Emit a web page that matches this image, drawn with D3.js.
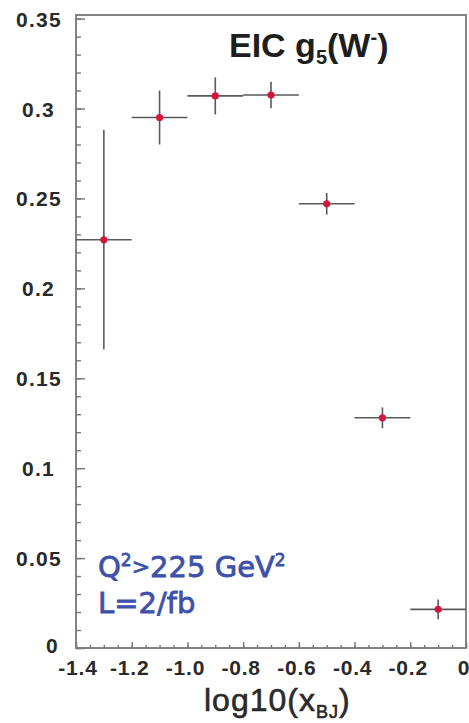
<!DOCTYPE html>
<html>
<head>
<meta charset="utf-8">
<script src="https://cdn.jsdelivr.net/npm/d3@7"></script>
<style>
  html, body { margin: 0; padding: 0; background: #fff; }
  svg { display: block; }
</style>
</head>
<body>
<svg id="chart" width="469" height="723"></svg>
<script>
// Bin centres in log10(x_BJ), half-widths of the bins
const xCenters = [-1.3, -1.1, -0.9, -0.7, -0.5, -0.3, -0.1];
const xHalfWidths = [0.1, 0.1, 0.1, 0.1, 0.1, 0.1, 0.1];
// Projected g5 (W-) values and statistical errors
const g5Values = [0.227, 0.295, 0.307, 0.3075, 0.247, 0.128, 0.0215];
const g5Errors = [0.061, 0.015, 0.0103, 0.0074, 0.006, 0.0058, 0.0055];
// Axis labels
const xTickValues = [-1.4, -1.2, -1.0, -0.8, -0.6, -0.4, -0.2, 0];
const xTickLabels = ["-1.4", "-1.2", "-1.0", "-0.8", "-0.6", "-0.4", "-0.2", "0"];
const yTickValues = [0, 0.05, 0.1, 0.15, 0.2, 0.25, 0.3, 0.35];
const yTickLabels = ["0", "0.05", "0.1", "0.15", "0.2", "0.25", "0.3", "0.35"];

const svg = d3.select("#chart");
const frameL = 76, frameR = 466, frameT = 15, frameB = 648;

const x = d3.scaleLinear().domain([-1.4, 0]).range([frameL, frameR]);
const y = d3.scaleLinear().domain([0, 0.352]).range([frameB, frameT]);

const axisColor = "#777";
const labelFont = "'Liberation Sans', Arial, sans-serif";

// Minor and major ticks (pointing into the frame)
const yMinor = d3.range(0, 0.3501, 0.01);
const xMinor = d3.range(-1.4, 0.0001, 0.05);

function styleTicks(g) {
  g.select(".domain").remove();
  g.selectAll("line").attr("stroke", axisColor).attr("stroke-width", 1.4);
  g.selectAll("text").remove();
}

svg.append("g").attr("transform", `translate(${frameL},0)`)
  .call(d3.axisLeft(y).tickValues(yMinor).tickSizeInner(-5).tickSizeOuter(0))
  .call(styleTicks);
svg.append("g").attr("transform", `translate(${frameL},0)`)
  .call(d3.axisLeft(y).tickValues(yTickValues).tickSizeInner(-9).tickSizeOuter(0))
  .call(styleTicks);
svg.append("g").attr("transform", `translate(0,${frameB})`)
  .call(d3.axisBottom(x).tickValues(xMinor).tickSizeInner(-3).tickSizeOuter(0))
  .call(styleTicks);
svg.append("g").attr("transform", `translate(0,${frameB})`)
  .call(d3.axisBottom(x).tickValues(xTickValues).tickSizeInner(-6).tickSizeOuter(0))
  .call(styleTicks);

// Frame
svg.append("rect")
  .attr("x", frameL).attr("y", frameT)
  .attr("width", frameR - frameL).attr("height", frameB - frameT)
  .attr("fill", "none").attr("stroke", axisColor).attr("stroke-width", 1.8);

// Y tick labels ("0" sits a little lower and tighter to the corner)
svg.append("g").selectAll("text")
  .data(yTickValues)
  .join("text")
  .attr("x", (d, i) => d === 0 ? 59 : (yTickLabels[i].length === 3 ? 55 : 62))
  .attr("y", d => d === 0 ? y(d) + 5 : y(d) + 8)
  .attr("text-anchor", "end")
  .attr("font-family", labelFont)
  .attr("font-weight", "bold")
  .attr("font-size", 21)
  .attr("letter-spacing", 1.3)
  .attr("fill", "#2a2a2a")
  .text((d, i) => yTickLabels[i]);

// X tick labels
svg.append("g").selectAll("text")
  .data(xTickValues)
  .join("text")
  .attr("x", (d, i) => i === 0 ? x(d) + 2 : x(d) - 2)
  .attr("y", 675)
  .attr("text-anchor", "middle")
  .attr("font-family", labelFont)
  .attr("font-weight", "bold")
  .attr("font-size", 21)
  .attr("letter-spacing", 0.8)
  .attr("fill", "#2a2a2a")
  .text((d, i) => xTickLabels[i]);

// X axis title
const xt = svg.append("text")
  .attr("x", 204).attr("y", 711)
  .attr("font-family", labelFont)
  .attr("font-size", 32)
  .attr("fill", "#2a2a2a")
  .attr("stroke", "#2a2a2a").attr("stroke-width", 0.6)
  .attr("letter-spacing", 1);
xt.append("tspan").text("log10(x");
xt.append("tspan").attr("font-size", 18).attr("dy", 7).text("BJ");
xt.append("tspan").attr("dy", -7).text(")");

// Plot title
const title = svg.append("text")
  .attr("x", 229).attr("y", 57)
  .attr("font-family", labelFont)
  .attr("font-weight", "bold")
  .attr("font-size", 34)
  .attr("fill", "#1e1e1e");
title.append("tspan").text("EIC g");
title.append("tspan").attr("font-size", 20).attr("dy", 7).text("5");
title.append("tspan").attr("dy", -7).text("(W");
title.append("tspan").attr("font-size", 20).attr("dy", -13).text("-");
title.append("tspan").attr("dy", 13).text(")");

// Data points with error bars
const pts = xCenters.map((c, i) => ({ x: c, dx: xHalfWidths[i], v: g5Values[i], e: g5Errors[i] }));
const barColor = "#5a5a5a";
const pg = svg.append("g");
pg.selectAll("line.h").data(pts).join("line")
  .attr("class", "h")
  .attr("x1", d => x(d.x - d.dx)).attr("x2", d => x(d.x + d.dx))
  .attr("y1", d => y(d.v)).attr("y2", d => y(d.v))
  .attr("stroke", barColor).attr("stroke-width", 1.6);
pg.selectAll("line.v").data(pts).join("line")
  .attr("class", "v")
  .attr("x1", d => x(d.x)).attr("x2", d => x(d.x))
  .attr("y1", d => y(d.v - d.e)).attr("y2", d => y(d.v + d.e))
  .attr("stroke", barColor).attr("stroke-width", 1.6);
pg.selectAll("circle").data(pts).join("circle")
  .attr("cx", d => x(d.x)).attr("cy", d => y(d.v))
  .attr("r", 3.6)
  .attr("fill", "#d4163f");

// Kinematic annotation
const noteFont = "'DejaVu Sans', sans-serif";
const noteColor = "#3d51a9";
const n1 = svg.append("text")
  .attr("x", 98).attr("y", 577)
  .attr("font-family", noteFont).attr("font-size", 29)
  .attr("fill", noteColor)
  .attr("stroke", noteColor).attr("stroke-width", 0.8);
n1.append("tspan").text("Q");
n1.append("tspan").attr("font-size", 17).attr("dy", -11).text("2");
n1.append("tspan").attr("font-size", 22).attr("dy", 8).text(">");
n1.append("tspan").attr("dy", 3).text("225 GeV");
n1.append("tspan").attr("font-size", 17).attr("dy", -11).text("2");
svg.append("text")
  .attr("x", 98).attr("y", 613)
  .attr("font-family", noteFont).attr("font-size", 29)
  .attr("fill", noteColor)
  .attr("stroke", noteColor).attr("stroke-width", 0.8)
  .text("L=2/fb");
</script>
</body>
</html>
